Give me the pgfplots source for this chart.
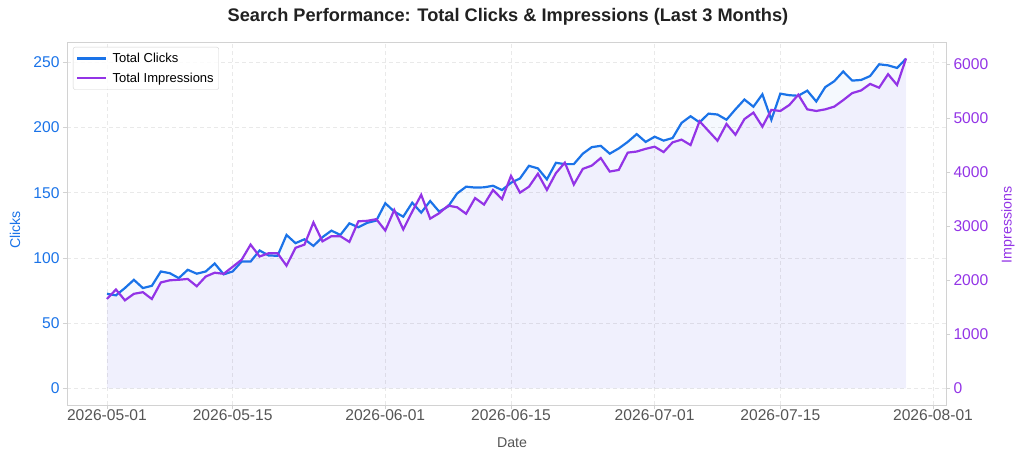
\documentclass[border=0pt]{standalone}
\usepackage{pgfplots}
\pgfplotsset{compat=1.18}
\usepackage{pgfplotstable}
\usepackage{fontspec}
\setmainfont{Liberation Sans}
\definecolor{cblue}{HTML}{1A73E8}
\definecolor{cpurp}{HTML}{9334E6}
\definecolor{tickgray}{HTML}{555555}
\definecolor{spinegray}{HTML}{D2D2D2}
\definecolor{gridgray}{HTML}{E9E9E9}
\pgfplotstableread{
day clicks impr
0 72.6 1655
1 71.4 1830
2 77.0 1630
3 83.3 1750
4 77.0 1780
5 78.7 1655
6 89.7 1960
7 88.4 2000
8 84.6 2010
9 91.0 2025
10 88.0 1890
11 89.7 2070
12 95.8 2140
13 87.5 2120
14 89.7 2250
15 97.3 2380
16 97.3 2660
17 105.8 2440
18 102.0 2500
19 101.7 2500
20 117.7 2270
21 111.4 2600
22 114.4 2660
23 109.3 3070
24 116.0 2720
25 121.0 2815
26 117.7 2815
27 126.6 2710
28 123.6 3090
29 127.0 3100
30 128.7 3130
31 142.0 2920
32 135.6 3300
33 131.7 2940
34 142.4 3270
35 134.8 3580
36 143.7 3140
37 135.6 3240
38 139.5 3380
39 149.5 3350
40 154.7 3230
41 154.0 3520
42 154.2 3400
43 155.4 3670
44 152.1 3500
45 157.7 3930
46 161.0 3620
47 170.7 3730
48 168.7 3970
49 160.3 3670
50 173.0 3980
51 172.0 4175
52 172.0 3770
53 180.0 4060
54 185.0 4120
55 186.0 4260
56 180.0 4010
57 184.0 4040
58 189.0 4360
59 195.0 4380
60 189.0 4430
61 193.0 4470
62 190.0 4370
63 192.0 4550
64 203.6 4600
65 208.7 4500
66 204.0 4940
67 210.7 4760
68 210.0 4580
69 206.0 4890
70 214.0 4690
71 221.5 4980
72 216.0 5100
73 225.5 4840
74 206.0 5150
75 226.0 5130
76 224.8 5240
77 224.4 5430
78 228.3 5160
79 220.0 5130
80 231.0 5160
81 235.5 5210
82 243.0 5330
83 236.0 5460
84 236.5 5510
85 239.5 5630
86 248.5 5560
87 247.7 5810
88 245.7 5610
89 252.8 6100
}\data
\newcommand{\tickfont}{\fontsize{15.6bp}{18bp}\selectfont}
\newcommand{\labfont}{\fontsize{14.2bp}{17bp}\selectfont}
\begin{document}
\begin{tikzpicture}
\begin{axis}[
  scale only axis, width=879bp, height=363bp,
  xmin=-4.45, xmax=93.45, ymin=-12.65, ymax=265.6,
  axis line style={spinegray, line width=0.8bp},
  xtick={0,14,31,45,61,75,92},
  xticklabels={2026-05-01,2026-05-15,2026-06-01,2026-06-15,2026-07-01,2026-07-15,2026-08-01},
  ytick={0,50,100,150,200,250},
  tick pos=left, tick align=outside,
  major tick length=4bp,
  tick style={spinegray, line width=0.8bp},
  grid=major, grid style={gridgray, dash pattern=on 4bp off 3bp, line width=0.8bp},
  x tick label style={font=\tickfont, text=tickgray, yshift=3bp},
  y tick label style={font=\tickfont, text=cblue},
  /pgf/number format/assume math mode=true,
  /pgf/number format/1000 sep={},
  legend style={at={(0,1)}, anchor=north west, xshift=6bp, yshift=-5bp,
    draw=spinegray, rounded corners=2bp, fill=white, fill opacity=0.85, text opacity=1,
    font=\fontsize{13bp}{15bp}\selectfont, row sep=4.5bp, column sep=3bp, inner xsep=3bp, inner ysep=4bp},
  legend cell align=left,
  legend image code/.code={\draw[#1, line width=2.4bp] (0bp,0bp) -- (29bp,0bp);},
]
\addplot[draw=none, fill=cblue, fill opacity=0.045, forget plot] table[x=day, y=clicks]{\data} \closedcycle;
\addplot[cblue, line width=2.2bp] table[x=day, y=clicks]{\data};
\addlegendentry{Total Clicks}
\addlegendimage{cpurp, line width=2.2bp}
\addlegendentry{Total Impressions}
\end{axis}
\begin{axis}[
  scale only axis, width=879bp, height=363bp,
  xmin=-4.45, xmax=93.45, ymin=-305, ymax=6405,
  axis x line=none, axis y line*=right,
  axis line style={spinegray, line width=0.8bp},
  ytick={0,1000,2000,3000,4000,5000,6000},
  tick align=outside, major tick length=4bp,
  tick style={spinegray, line width=0.8bp},
  y tick label style={font=\tickfont, text=cpurp},
  /pgf/number format/assume math mode=true,
  /pgf/number format/1000 sep={},
]
\addplot[draw=none, fill=cpurp, fill opacity=0.045] table[x=day, y=impr]{\data} \closedcycle;
\addplot[cpurp, line width=2.2bp] table[x=day, y=impr]{\data};
\end{axis}
\node[font=\fontsize{18.2bp}{22bp}\selectfont\bfseries, text=black!87] at (441bp,388bp) {Search Performance: Total Clicks \& Impressions (Last 3 Months)};
\node[font=\labfont, text=tickgray] at (445bp,-38bp) {Date};
\node[font=\labfont, text=cblue, rotate=90] at (-52bp,175bp) {Clicks};
\node[font=\labfont, text=cpurp, rotate=90] at (941bp,180bp) {Impressions};
\pgfresetboundingbox
\path[use as bounding box] (-67bp,-56bp) rectangle (957bp,405bp);
\end{tikzpicture}
\end{document}
